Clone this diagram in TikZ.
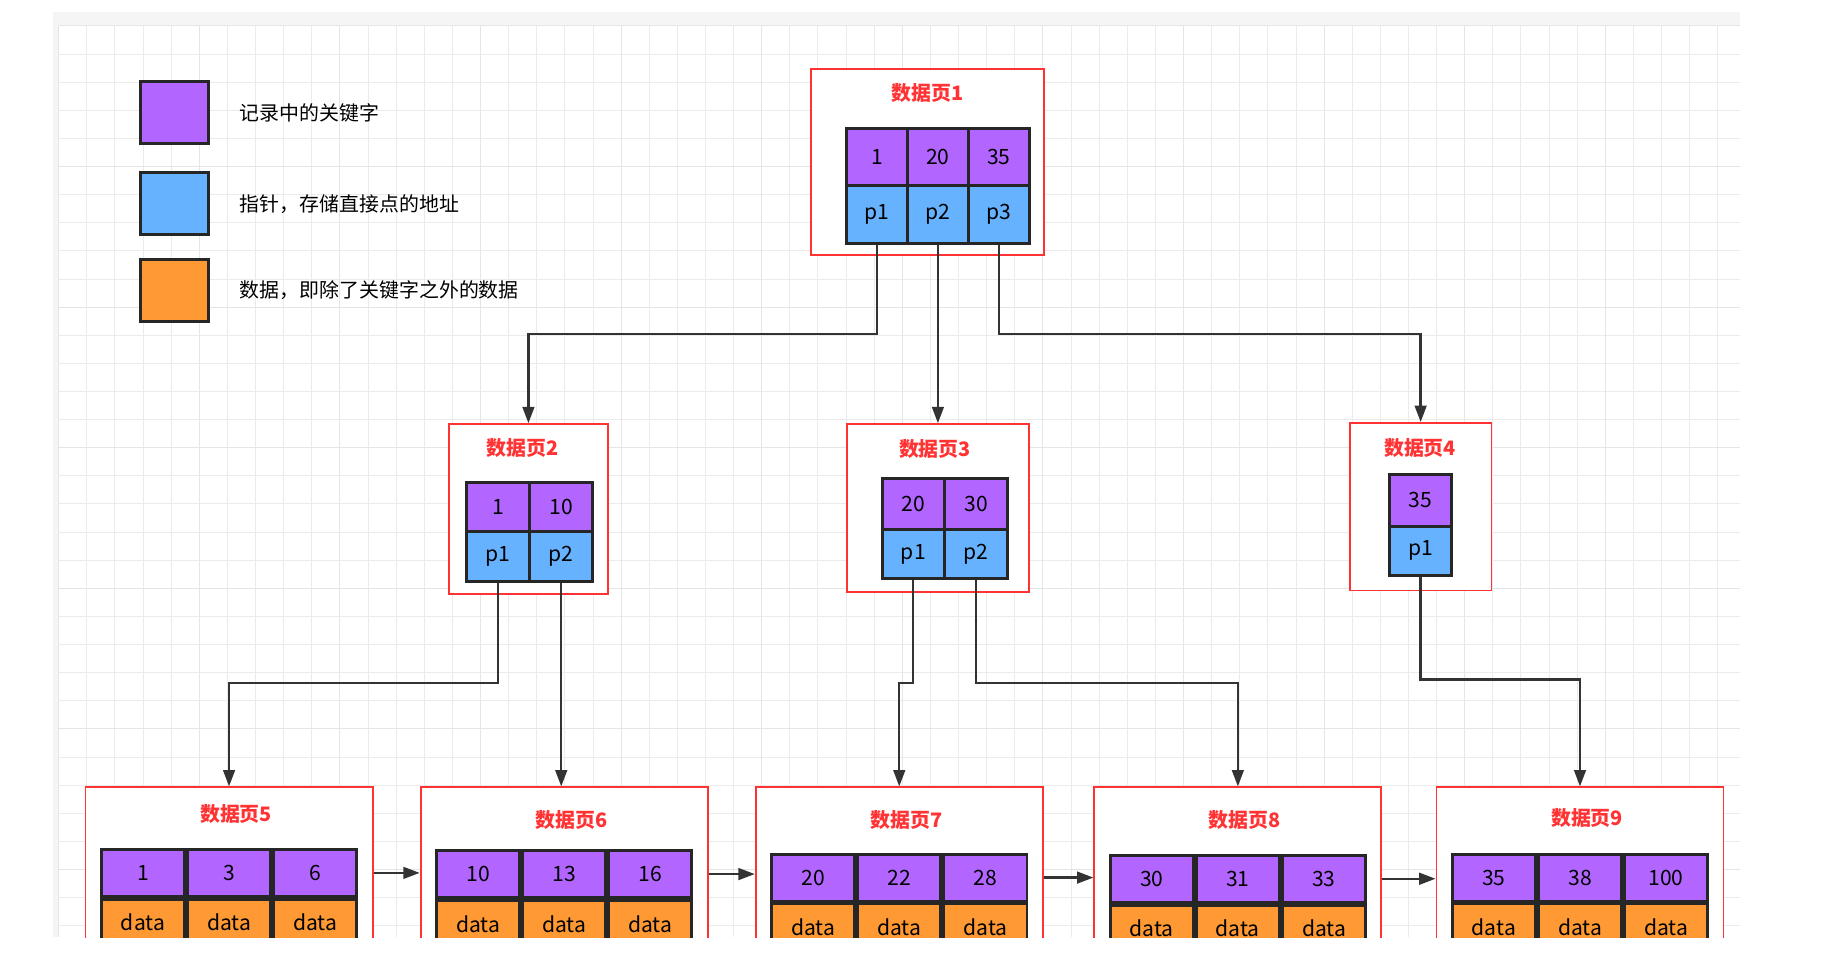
\documentclass[tikz,border=0pt]{standalone}
\usepackage{fontspec}
\setmainfont{Noto Sans CJK SC}
\usetikzlibrary{arrows.meta,positioning}
\definecolor{keyc}{HTML}{B266FF}
\definecolor{ptrc}{HTML}{66B2FF}
\definecolor{datc}{HTML}{FF9933}
\definecolor{pgred}{HTML}{FF3333}
\begin{document}
\begin{tikzpicture}[x=1pt,y=-1pt,
    cell/.style={
      rectangle,
      draw=black!85,
      line width=2.5pt,
      inner sep=0pt,
      font=\fontsize{18}{18}\selectfont
    },
    key/.style={cell, fill=keyc},
    ptr/.style={cell, fill=ptrc},
    dat/.style={cell, fill=datc},
    page/.style={
      rectangle,
      draw=pgred,
      line width=1.6pt,
      fill=white,
      inner sep=0pt
    },
    title/.style={
      text=pgred,
      font=\fontsize{17}{17}\selectfont\bfseries
    },
    link/.style={
      draw=black!80,
      line width=2pt,
      -{Triangle[length=14pt,width=10pt]}
    }
]
\useasboundingbox (0,0) rectangle (1567,821);
\begin{scope}
\clip (45,10) rectangle (1485,800);
\fill[black!4] (45,10) rectangle (1485,800);
\fill[white] (50,22) rectangle (1485,800);
\foreach \g in {50,74,...,1485} \draw[black!8, line width=0.6pt] (\g,22) -- (\g,800);
\foreach \g in {22,46,...,800} \draw[black!8, line width=0.6pt] (50,\g) -- (1485,\g);
\foreach \g in {50,170,...,1485} \draw[black!10, line width=0.8pt] (\g,22) -- (\g,800);
\foreach \g in {22,142,...,800} \draw[black!10, line width=0.8pt] (50,\g) -- (1485,\g);

%% Legend
\node [key, minimum width=58, minimum height=53] (lkey) at (149,96) {};
\node [ptr, minimum width=58, minimum height=53] (lptr) at (149,174) {};
\node [dat, minimum width=58, minimum height=53] (ldat) at (149,248) {};
\node [right=22pt of lkey, font=\fontsize{17}{17}\selectfont] {记录中的关键字};
\node [right=22pt of lptr, font=\fontsize{17}{17}\selectfont] {指针，存储直接点的地址};
\node [right=22pt of ldat, font=\fontsize{17}{17}\selectfont] {数据，即除了关键字之外的数据};

%% Root and middle pages
\node [page, minimum width=199, minimum height=159] (pg1) at (791.5,138.5) {};
\node [title] (t1) at (791.5,79) {数据页1};
\foreach \i/\x/\v in {1/748.5/1, 2/800.5/20, 3/852.5/35} {
  \node [key, minimum width=52, minimum height=48] (k1\i) at (\x,134) {\v};
  \node [ptr, minimum width=52, minimum height=50] (q1\i) at (\x,183) {p\i};
}
\node [page, minimum width=136, minimum height=145] (pg2) at (451,434.5) {};
\node [title] (t2) at (446,382) {数据页2};
\foreach \i/\x/\v in {1/425/1, 2/479/10} {
  \node [key, minimum width=54, minimum height=42] (k2\i) at (\x,433) {\v};
  \node [ptr, minimum width=54, minimum height=42] (q2\i) at (\x,475) {p\i};
}
\node [page, minimum width=155, minimum height=143] (pg3) at (800.5,433.5) {};
\node [title] (t3) at (798,383) {数据页3};
\foreach \i/\x/\v in {1/779.5/20, 2/833/30} {
  \node [key, minimum width=53, minimum height=44] (k3\i) at (\x,430) {\v};
  \node [ptr, minimum width=53, minimum height=42] (q3\i) at (\x,473) {p\i};
}
\node [page, minimum width=121, minimum height=143] (pg4) at (1212.5,432.5) {};
\node [title] (t4) at (1212,382) {数据页4};
\node [key, minimum width=53, minimum height=44] (k41) at (1212.5,427) {35};
\node [ptr, minimum width=53, minimum height=42] (q41) at (1212.5,470) {p1};

%% Leaf pages
\foreach \p/\x/\ty/\ky/\va/\vb/\vc in {5/195.5/695/745/1/3/6, 6/481.5/700/746/10/13/16,
    7/767.5/700/749/20/22/28, 8/1056.5/700/750/30/31/33, 9/1348.5/698/749/35/38/100} {
  \node [page, minimum width=245, minimum height=160] (pg\p) at (\x,752) {};
  \node [title] (t\p) at (\x+6,\ty) {数据页\p};
  \node [key, minimum width=71, minimum height=40] (k\p2) at (\x,\ky) {\vb};
  \node [key, minimum width=71, minimum height=40, left=0pt of k\p2] (k\p1) {\va};
  \node [key, minimum width=71, minimum height=40, right=0pt of k\p2] (k\p3) {\vc};
  \foreach \j in {1,2,3}
    \node [dat, minimum width=71, minimum height=40, below=0pt of k\p\j] (d\p\j) {data};
}

%% Arrows
\draw [link] (q11.south) -- (q11.south |- 0,285) -| (pg2.north);
\draw [link] (q12.south) -- (pg3.north -| q12.south);
\draw [link] (q13.south) -- (q13.south |- 0,285) -| (pg4.north);
\draw [link] (q21.south) -- (q21.south |- 0,583) -| (pg5.north);
\draw [link] (q22.south) -- (pg6.north -| q22.south);
\draw [link] (q31.south) -- (q31.south |- 0,583) -| (pg7.north);
\draw [link] (q32.south) -- (q32.south |- 0,583) -| (pg8.north);
\draw [link] (q41.south) -- (q41.south |- 0,580) -| (pg9.north);
\draw [link] (pg5.east |- k53) -- (pg6.west |- k53);
\draw [link] (pg6.east |- k63) -- (pg7.west |- k63);
\draw [link] (pg7.east |- k73) -- (pg8.west |- k73);
\draw [link] (pg8.east |- k83) -- (pg9.west |- k83);
\end{scope}
\end{tikzpicture}
\end{document}
